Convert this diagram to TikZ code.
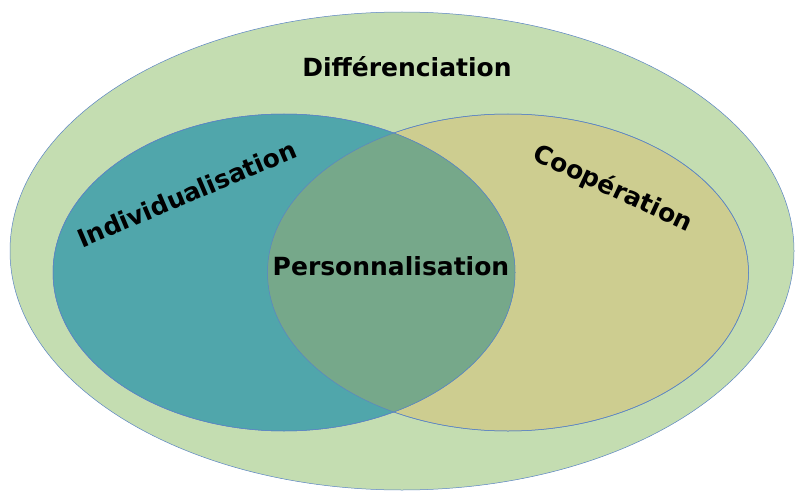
\documentclass[tikz,border=0pt]{standalone}
\usepackage{fontspec}
\setmainfont{DejaVu Sans}
\definecolor{outergreen}{HTML}{C4DDB1}
\definecolor{indivteal}{HTML}{50A6AB}
\definecolor{coopkhaki}{HTML}{CDCD90}
\definecolor{persogreen}{HTML}{76A88A}
\definecolor{rimblue}{HTML}{5B84C4}
\begin{document}
\begin{tikzpicture}
  [x=1pt,y=-1pt,every node/.style={font=\bfseries\fontsize{25}{28}\selectfont,inner sep=0pt},
   rim/.style={draw=rimblue,line width=.5pt}]
  \useasboundingbox (0,0) rectangle (795,492);
  % ellipses
  \fill[white] (0,0) rectangle (795,492);
  \path[rim,fill=outergreen] (402,251) ellipse [x radius=392, y radius=239];
  \path[rim,fill=coopkhaki] (508,272.5) ellipse [x radius=240.5, y radius=158.5];
  \path[rim,fill=indivteal] (284,272.5) ellipse [x radius=231, y radius=158.5];
  \begin{scope}
    \clip (284,272.5) ellipse [x radius=231, y radius=158.5];
    \fill[persogreen] (508,272.5) ellipse [x radius=240.5, y radius=158.5];
  \end{scope}
  \draw[rim] (508,272.5) ellipse [x radius=240.5, y radius=158.5];
  \draw[rim] (284,272.5) ellipse [x radius=231, y radius=158.5];
  % labels
  \node (diff) at (407,67) {Différenciation};
  \node[rotate=23] (indiv) at (187,194) {Individualisation};
  \node[rotate=-25] (coop) at (613,189) {Coopération};
  \node (perso) at (391,266) {Personnalisation};
\end{tikzpicture}
\end{document}
